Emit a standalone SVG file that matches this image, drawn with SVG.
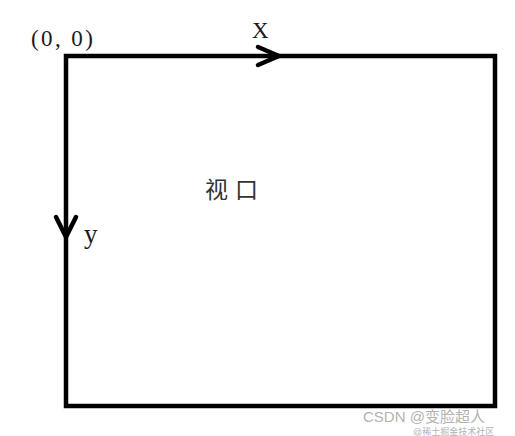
<svg xmlns="http://www.w3.org/2000/svg" width="515" height="436" viewBox="0 0 515 436">
<style>
.lbl{font-family:"Liberation Serif","Noto Sans CJK SC",serif;fill:#1a1a1a}
.ln{fill:none;stroke:#000;stroke-width:4.5;stroke-linecap:round;stroke-linejoin:round}
.wm{font-family:"Liberation Sans","Noto Sans CJK SC",sans-serif;fill:#b3b3b3}
</style>
<rect width="515" height="436" fill="#fff"/>
<g id="viewport">
<rect x="66" y="56" width="429" height="350" fill="none" stroke="#000" stroke-width="4.5"/>
<text class="lbl" x="205" y="198" font-size="23" letter-spacing="7" style="font-family:'Noto Sans CJK SC',sans-serif;fill:#333">视口</text>
</g>
<g id="connectors">
<path class="ln" d="M258,47 L279,56 L258,65"/>
<path class="ln" d="M56,217 L66,237 L76,217"/>
</g>
<g id="labels">
<text class="lbl" x="31" y="46" font-size="23" letter-spacing="2.4">(0, 0)</text>
<text class="lbl" x="252" y="38" font-size="23">X</text>
<text class="lbl" x="84" y="243" font-size="27">y</text>
</g>
<g id="watermark">
<text class="wm" x="363" y="422" font-size="15">CSDN @变脸超人</text>
<text class="wm" x="413" y="435" font-size="9">@稀土掘金技术社区</text>
</g>
</svg>
